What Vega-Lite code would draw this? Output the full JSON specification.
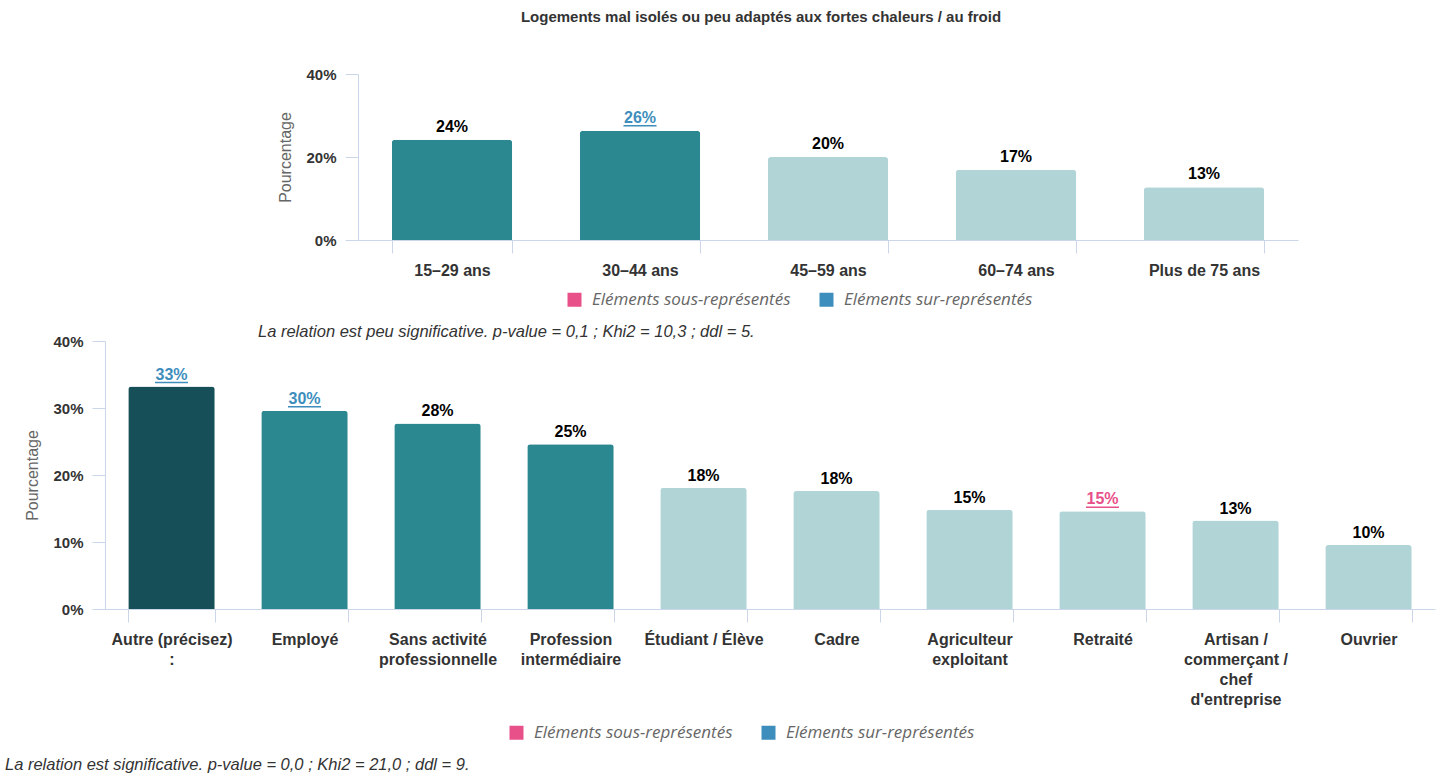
{
  "$schema": "https://vega.github.io/schema/vega-lite/v6.json",
  "background": "white",
  "padding": {"left": 5, "top": 10, "right": 5, "bottom": 5},
  "title": {"text": "Logements mal isolés ou peu adaptés aux fortes chaleurs / au froid", "anchor": "middle", "dx": 41, "fontSize": 15, "fontWeight": "bold", "color": "#333333", "font": "Liberation Sans", "offset": 42},
  "datasets": {
    "age": [
      {"categorie": "15–29 ans", "pct": 0.2417, "classe": "moyen", "signif": "Non significatif"},
      {"categorie": "30–44 ans", "pct": 0.263, "classe": "moyen", "signif": "Eléments sur-représentés"},
      {"categorie": "45–59 ans", "pct": 0.200, "classe": "faible", "signif": "Non significatif"},
      {"categorie": "60–74 ans", "pct": 0.169, "classe": "faible", "signif": "Non significatif"},
      {"categorie": "Plus de 75 ans", "pct": 0.127, "classe": "faible", "signif": "Non significatif"}
    ],
    "csp": [
      {"categorie": "Autre (précisez) :", "pct": 0.332, "classe": "fort", "signif": "Eléments sur-représentés"},
      {"categorie": "Employé", "pct": 0.296, "classe": "moyen", "signif": "Eléments sur-représentés"},
      {"categorie": "Sans activité professionnelle", "pct": 0.277, "classe": "moyen", "signif": "Non significatif"},
      {"categorie": "Profession intermédiaire", "pct": 0.246, "classe": "moyen", "signif": "Non significatif"},
      {"categorie": "Étudiant / Élève", "pct": 0.181, "classe": "faible", "signif": "Non significatif"},
      {"categorie": "Cadre", "pct": 0.176, "classe": "faible", "signif": "Non significatif"},
      {"categorie": "Agriculteur exploitant", "pct": 0.148, "classe": "faible", "signif": "Non significatif"},
      {"categorie": "Retraité", "pct": 0.146, "classe": "faible", "signif": "Eléments sous-représentés"},
      {"categorie": "Artisan / commerçant / chef d'entreprise", "pct": 0.132, "classe": "faible", "signif": "Non significatif"},
      {"categorie": "Ouvrier", "pct": 0.0955, "classe": "faible", "signif": "Non significatif"}
    ]
  },
  "spacing": -8,
  "resolve": {"scale": {"color": "independent", "fill": "independent", "x": "independent", "y": "independent"}, "legend": {"color": "independent"}},
  "vconcat": [
    {
      "spacing": 0,
      "resolve": {"scale": {"color": "independent", "fill": "independent"}, "legend": {"color": "independent"}},
      "hconcat": [
        {"width": 153, "height": 10, "data": {"values": [{}]}, "mark": {"type": "point", "opacity": 0}, "encoding": {}},
        {
          "width": 940,
          "height": 166,
          "data": {"name": "age"},
          "title": {"text": "La relation est peu significative. p-value = 0,1 ; Khi2 = 10,3 ; ddl = 5.", "orient": "bottom", "anchor": "start", "frame": "group", "dx": -100, "fontStyle": "italic", "fontWeight": "normal", "fontSize": 16.5, "color": "#333333", "font": "Liberation Sans", "offset": 16},
          "encoding": {
            "x": {"field": "categorie", "type": "nominal", "sort": null,
                  "scale": {"paddingInner": 0.36, "paddingOuter": 0.18},
                  "axis": {"title": null}},
            "y": {"field": "pct", "type": "quantitative",
                  "scale": {"domain": [0, 0.4], "nice": false},
                  "axis": {"title": "Pourcentage", "values": [0, 0.2, 0.4], "format": ".0%"}}
          },
          "layer": [
            {"mark": {"type": "bar", "cornerRadiusTopLeft": 3, "cornerRadiusTopRight": 3},
             "encoding": {"fill": {"field": "classe", "type": "nominal", "legend": null,
                                   "scale": {"domain": ["fort", "moyen", "faible"], "range": ["#164f57", "#2c8890", "#b1d5d7"]}}}},
            {"mark": {"type": "text", "baseline": "alphabetic", "dy": -8, "fontSize": 16, "fontWeight": "bold", "font": "Liberation Sans"},
             "encoding": {"text": {"field": "pct", "type": "quantitative", "format": ".0%"},
                          "color": {"field": "signif", "type": "nominal",
                                    "scale": {"domain": ["Eléments sous-représentés", "Eléments sur-représentés", "Non significatif"], "range": ["#e8508a", "#3d8ebd", "#000000"]},
                                    "legend": {"orient": "none", "legendX": 208, "legendY": 217, "direction": "horizontal", "title": null,
                                               "values": ["Eléments sous-représentés", "Eléments sur-représentés"],
                                               "symbolType": "square", "symbolSize": 196, "symbolStrokeWidth": 0, "symbolOpacity": 1,
                                               "labelFont": "Open Sans", "labelFontStyle": "italic", "labelFontSize": 17, "labelColor": "#666666", "labelOffset": 9, "labelLimit": 0, "columnPadding": 27}}}},
            {"transform": [{"filter": "datum.signif != 'Non significatif'"}],
             "mark": {"type": "tick", "orient": "horizontal", "size": 33, "thickness": 1.5, "yOffset": -5, "opacity": 1},
             "encoding": {"color": {"field": "signif", "type": "nominal"}}}
          ]
        }
      ]
    },
    {
      "width": 1330,
      "height": 268,
      "data": {"name": "csp"},
      "title": {"text": "La relation est significative. p-value = 0,0 ; Khi2 = 21,0 ; ddl = 9.", "orient": "bottom", "anchor": "start", "frame": "group", "dx": -100, "fontStyle": "italic", "fontWeight": "normal", "fontSize": 16.5, "color": "#333333", "font": "Liberation Sans", "offset": 16},
      "encoding": {
        "x": {"field": "categorie", "type": "nominal", "sort": null,
              "scale": {"paddingInner": 0.35, "paddingOuter": 0.175},
              "axis": {"title": null, "labelLineHeight": 20,
                       "labelExpr": "datum.value == 'Autre (précisez) :' ? ['Autre (précisez)', ':'] : datum.value == 'Sans activité professionnelle' ? ['Sans activité', 'professionnelle'] : datum.value == 'Profession intermédiaire' ? ['Profession', 'intermédiaire'] : datum.value == 'Agriculteur exploitant' ? ['Agriculteur', 'exploitant'] : datum.value == \"Artisan / commerçant / chef d'entreprise\" ? ['Artisan /', 'commerçant /', 'chef', \"d'entreprise\"] : datum.value"}},
        "y": {"field": "pct", "type": "quantitative",
              "scale": {"domain": [0, 0.4], "nice": false},
              "axis": {"title": "Pourcentage", "values": [0, 0.1, 0.2, 0.3, 0.4], "format": ".0%"}}
      },
      "layer": [
        {"mark": {"type": "bar", "cornerRadiusTopLeft": 3, "cornerRadiusTopRight": 3},
         "encoding": {"fill": {"field": "classe", "type": "nominal", "legend": null,
                               "scale": {"domain": ["fort", "moyen", "faible"], "range": ["#164f57", "#2c8890", "#b1d5d7"]}}}},
        {"mark": {"type": "text", "baseline": "alphabetic", "dy": -7, "fontSize": 16, "fontWeight": "bold", "font": "Liberation Sans"},
         "encoding": {"text": {"field": "pct", "type": "quantitative", "format": ".0%"},
                      "color": {"field": "signif", "type": "nominal",
                                "scale": {"domain": ["Eléments sous-représentés", "Eléments sur-représentés", "Non significatif"], "range": ["#e8508a", "#3d8ebd", "#000000"]},
                                "legend": {"orient": "none", "legendX": 403, "legendY": 383, "direction": "horizontal", "title": null,
                                           "values": ["Eléments sous-représentés", "Eléments sur-représentés"],
                                           "symbolType": "square", "symbolSize": 196, "symbolStrokeWidth": 0, "symbolOpacity": 1,
                                           "labelFont": "Open Sans", "labelFontStyle": "italic", "labelFontSize": 17, "labelColor": "#666666", "labelOffset": 9, "labelLimit": 0, "columnPadding": 27}}}},
        {"transform": [{"filter": "datum.signif != 'Non significatif'"}],
         "mark": {"type": "tick", "orient": "horizontal", "size": 33, "thickness": 1.5, "yOffset": -4, "opacity": 1},
         "encoding": {"color": {"field": "signif", "type": "nominal"}}}
      ]
    }
  ],
  "config": {
    "view": {"stroke": null},
    "font": "Liberation Sans",
    "axis": {"domainColor": "#ccd6eb", "tickColor": "#ccd6eb", "tickSize": 13, "grid": false,
             "labelFont": "Liberation Sans", "labelFontSize": 16, "labelFontWeight": "bold", "labelColor": "#333333", "labelPadding": 9,
             "titleFont": "Liberation Sans", "titleFontSize": 16, "titleFontWeight": "normal", "titleColor": "#666666", "titlePadding": 12},
    "axisX": {"tickBand": "extent", "labelAngle": 0, "labelBaseline": "top"},
    "axisY": {"labelFontSize": 15}
  }
}
